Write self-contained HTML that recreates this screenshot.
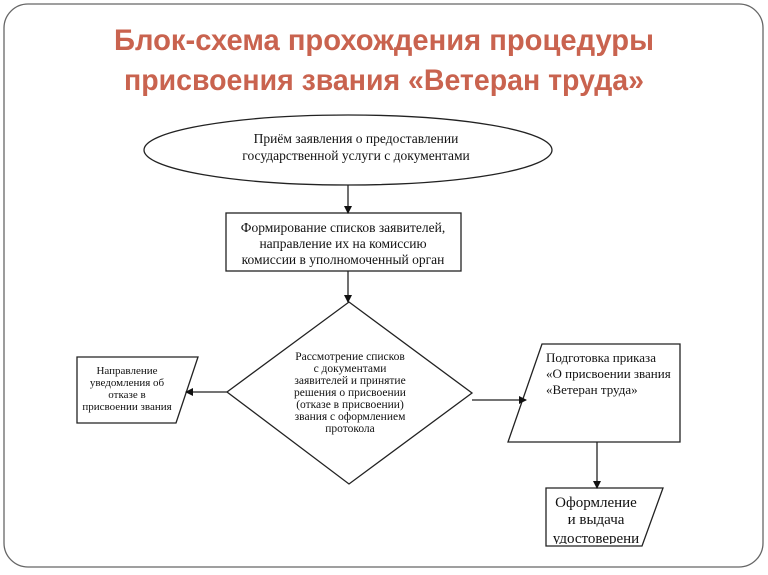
<!DOCTYPE html>
<html><head><meta charset="utf-8"><style>
html,body{margin:0;padding:0;background:#fff;}
svg{display:block}
.t{font-family:"Liberation Serif",serif;fill:#111;}
.h{font-family:"Liberation Sans",sans-serif;font-weight:bold;fill:#c9634f;}
</style></head><body>
<svg width="768" height="575" viewBox="0 0 768 575" xmlns="http://www.w3.org/2000/svg">
<defs><marker id="a" markerWidth="8" markerHeight="8" refX="7" refY="4" orient="auto" markerUnits="userSpaceOnUse"><path d="M0,0 L8,4 L0,8 z" fill="#111"/></marker>
<clipPath id="c"><rect x="546" y="487" width="120" height="57"/></clipPath></defs>
<rect x="4" y="4" width="759" height="563" rx="24" fill="#fff" stroke="#666" stroke-width="1.3"/>
<text class="h" x="384" y="50" font-size="30" text-anchor="middle" textLength="540" lengthAdjust="spacingAndGlyphs">Блок-схема прохождения процедуры</text>
<text class="h" x="384" y="90" font-size="30" text-anchor="middle" textLength="520" lengthAdjust="spacingAndGlyphs">присвоения звания «Ветеран труда»</text>
<g stroke="#222" stroke-width="1.3" fill="#fff">
<ellipse cx="348" cy="150" rx="204" ry="35"/>
<rect x="226" y="213" width="235" height="58"/>
<polygon points="349,302 472,393 349,484 227,392"/>
<polygon points="77,357 198,357 176,423 77,423"/>
<polygon points="542,344 680,344 680,442 508,442"/>
<polygon points="546,488 663,488 642,546 546,546"/>
<line x1="348" y1="185" x2="348" y2="213" marker-end="url(#a)"/>
<line x1="348" y1="271" x2="348" y2="302" marker-end="url(#a)"/>
<line x1="227" y1="392" x2="186" y2="392" marker-end="url(#a)"/>
<line x1="472" y1="400" x2="526" y2="400" marker-end="url(#a)"/>
<line x1="597" y1="442" x2="597" y2="488" marker-end="url(#a)"/>
</g>
<g class="t" font-size="13.5" text-anchor="middle">
<text x="356" y="143">Приём заявления о предоставлении</text>
<text x="356" y="160">государственной услуги с документами</text>
<text x="343" y="232">Формирование списков заявителей,</text>
<text x="343" y="248">направление их на комиссию</text>
<text x="343" y="264">комиссии в уполномоченный орган</text>
</g>
<g class="t" font-size="11.5" text-anchor="middle">
<text x="350" y="360">Рассмотрение списков</text>
<text x="350" y="372">с документами</text>
<text x="350" y="384">заявителей и принятие</text>
<text x="350" y="396">решения о присвоении</text>
<text x="350" y="408">(отказе в присвоении)</text>
<text x="350" y="420">звания с оформлением</text>
<text x="350" y="432">протокола</text>
<text x="127" y="374" font-size="11">Направление</text>
<text x="127" y="386" font-size="11">уведомления об</text>
<text x="127" y="398" font-size="11">отказе в</text>
<text x="127" y="410" font-size="11">присвоении звания</text>
</g>
<g class="t" font-size="13">
<text x="546" y="362">Подготовка приказа</text>
<text x="546" y="378">«О присвоении звания</text>
<text x="546" y="394">«Ветеран труда»</text>
</g>
<g class="t" font-size="15" text-anchor="middle" clip-path="url(#c)">
<text x="596" y="507">Оформление</text>
<text x="596" y="524">и выдача</text>
<text x="596" y="543">удостоверени</text>
</g>
</svg>
</body></html>
